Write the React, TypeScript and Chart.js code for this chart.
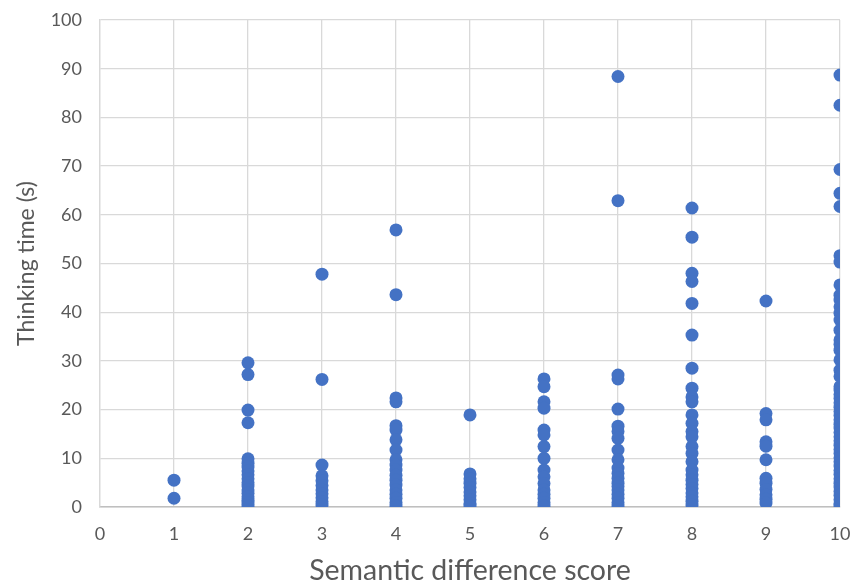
import React, { useEffect, useRef } from "react";
import { Chart, registerables } from "chart.js";

Chart.register(...registerables);

const xTickLabels = ["0", "1", "2", "3", "4", "5", "6", "7", "8", "9", "10"];
const yTickLabels = ["0", "10", "20", "30", "40", "50", "60", "70", "80", "90", "100"];

const score1 = [5.5, 1.8];
const score2 = [29.6, 27.2, 19.9, 17.3, 9.9, 9.0, 8.2, 7.4, 6.6, 5.8, 5.0, 4.3, 3.5, 2.8, 2.1, 1.4, 0.8, 0.2];
const score3 = [47.8, 26.2, 8.6, 6.4, 5.4, 4.4, 3.5, 2.7, 1.9, 1.1, 0.4];
const score4 = [56.9, 43.6, 22.4, 21.6, 16.7, 15.8, 13.8, 11.7, 9.7, 8.6, 7.6, 6.5, 5.5, 4.5, 3.5, 2.6, 1.8, 0.9, 0.2];
const score5 = [18.9, 6.8, 5.8, 4.9, 4.0, 3.1, 2.3, 1.5, 0.7, 0.2];
const score6 = [26.3, 24.7, 21.6, 20.3, 15.8, 14.8, 12.4, 10.0, 7.6, 6.2, 4.8, 3.5, 2.6, 1.8, 0.9, 0.2];
const score7 = [88.4, 62.9, 27.1, 26.3, 20.1, 16.6, 15.5, 14.1, 11.7, 9.7, 8.0, 6.9, 5.9, 4.9, 4.2, 3.5, 2.6, 1.8, 0.9, 0.2];
const score8 = [61.4, 55.4, 48.0, 46.3, 41.8, 35.3, 28.5, 24.4, 22.6, 21.6, 18.9, 17.2, 15.5, 14.4, 12.4, 11.0, 9.3, 7.6, 6.6, 5.5, 4.6, 3.8, 2.9, 2.1, 1.2, 0.4];
const score9 = [42.3, 19.2, 17.9, 13.4, 12.5, 9.7, 5.9, 4.9, 3.6, 2.5, 1.6, 0.8];
const score10 = [
  88.7, 82.5, 69.3, 64.4, 61.7, 51.6, 50.3, 45.6, 43.5, 42.5, 41.1, 39.8, 38.4, 36.3,
  34.3, 33.4, 32.2, 30.2, 28.1, 26.8, 24.7, 24.0, 23.1, 22.3, 21.4, 20.5, 19.6, 18.8,
  17.9, 17.0, 16.2, 15.3, 14.4, 13.6, 12.7, 11.8, 11.0, 10.1, 9.3, 8.4, 7.5, 6.7, 5.8,
  4.9, 4.1, 3.2, 2.4, 1.5, 0.7, 0.2,
];

const scoreGroups: [number, number[]][] = [
  [1, score1],
  [2, score2],
  [3, score3],
  [4, score4],
  [5, score5],
  [6, score6],
  [7, score7],
  [8, score8],
  [9, score9],
  [10, score10],
];

export default function App() {
  const ref = useRef<HTMLCanvasElement | null>(null);

  useEffect(() => {
    if (!ref.current) return;
    const points: { x: number; y: number }[] = [];
    scoreGroups.forEach(([x, ys]) => ys.forEach((y) => points.push({ x, y })));

    const font = "Lato, 'Open Sans', sans-serif";
    const tickColor = "#595959";

    const chart = new Chart(ref.current, {
      type: "scatter",
      data: {
        datasets: [
          {
            data: points,
            backgroundColor: "#4472C4",
            borderColor: "#4472C4",
            borderWidth: 0,
            pointRadius: 6.5,
          },
        ],
      },
      options: {
        animation: false,
        responsive: false,
        maintainAspectRatio: false,
        layout: { padding: { top: 20, right: 11, left: 0, bottom: 0 } },
        plugins: { legend: { display: false }, tooltip: { enabled: false } },
        scales: {
          x: {
            type: "linear",
            min: 0,
            max: 10,
            afterFit: (axis: any) => {
              axis.height = 78;
              axis.paddingLeft = 0;
              axis.paddingRight = 0;
            },
            ticks: {
              stepSize: 1,
              padding: 16,
              color: tickColor,
              font: { family: font, size: 18 },
              callback: (v: any) => xTickLabels[Number(v)] ?? "",
            },
            grid: { color: "#d9d9d9", lineWidth: 1.3, drawTicks: false },
            border: { color: "#bfbfbf", width: 1.5 },
            title: {
              display: true,
              text: "Semantic difference score",
              color: tickColor,
              font: { family: font, size: 28.5, lineHeight: 1 },
              padding: { top: 0, bottom: 0 },
            },
          },
          y: {
            type: "linear",
            min: 0,
            max: 100,
            afterFit: (axis: any) => {
              axis.width = 100;
              axis.paddingTop = 0;
              axis.paddingBottom = 0;
            },
            ticks: {
              stepSize: 10,
              padding: 18,
              color: tickColor,
              font: { family: font, size: 18 },
              callback: (v: any) => yTickLabels[Math.round(Number(v) / 10)] ?? "",
            },
            grid: { color: "#d9d9d9", lineWidth: 1.3, drawTicks: false },
            border: { color: "#d9d9d9", width: 1.3 },
            title: {
              display: true,
              text: "Thinking time (s)",
              color: tickColor,
              font: { family: font, size: 23, lineHeight: 1 },
              padding: { top: 15, bottom: 0 },
            },
          },
        },
      },
    });
    return () => chart.destroy();
  }, []);

  return (
    <div style={{ position: "fixed", left: 0, top: 0, width: 851, height: 585, background: "#fff" }}>
      <canvas ref={ref} width={851} height={585} style={{ width: 851, height: 585 }} />
    </div>
  );
}
